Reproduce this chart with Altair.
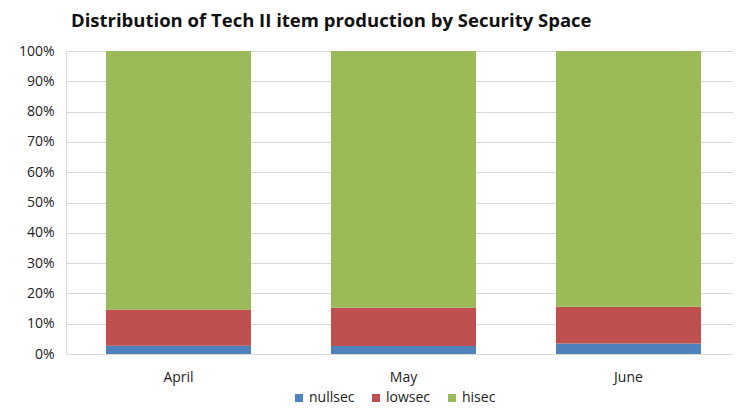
import altair as alt
import pandas as pd

months = ["April", "May", "June"]
series = ["nullsec", "lowsec", "hisec"]
nullsec = [2.7, 2.6, 3.5]
lowsec = [12.0, 12.7, 12.1]
hisec = [85.3, 84.7, 84.4]
colors = ["#4F81BD", "#C0504D", "#9BBB59"]

rows = []
for i, m in enumerate(months):
    for j, (s, vals) in enumerate(zip(series, [nullsec, lowsec, hisec])):
        rows.append({"month": m, "series": s, "value": vals[i], "order": j})
df = pd.DataFrame(rows)

FONT = "Open Sans"

chart = alt.Chart(df).mark_bar(size=145).encode(
    x=alt.X("month:N", sort=months, title=None,
            scale=alt.Scale(paddingInner=0.36, paddingOuter=0.18, range=[0, 675]),
            axis=alt.Axis(labelAngle=0, labelFont=FONT, labelFontSize=14,
                          labelColor="#222222", labelPadding=16, ticks=False,
                          domainColor="#D9D9D9", grid=False)),
    y=alt.Y("value:Q", stack="normalize", title=None,
            scale=alt.Scale(domain=[0, 1]),
            axis=alt.Axis(format=".0%", values=[i / 10 for i in range(11)],
                          labelFont=FONT, labelFontSize=14, labelColor="#222222",
                          labelPadding=12, ticks=False, domainColor="#D9D9D9",
                          gridColor="#D9D9D9")),
    color=alt.Color("series:N", sort=series,
                    scale=alt.Scale(domain=series, range=colors),
                    legend=alt.Legend(title=None, orient="none", direction="horizontal",
                                      legendX=226, legendY=340,
                                      symbolType="square", symbolSize=64,
                                      symbolStrokeWidth=0,
                                      labelFont=FONT, labelFontSize=14,
                                      labelColor="#222222", columnPadding=14,
                                      labelOffset=3)),
    order=alt.Order("order:Q"),
).properties(
    width=667,
    height=303,
    autosize=alt.AutoSizeParams(type="none"),
    padding={"left": 58, "top": 43, "right": 0, "bottom": 52},
    title=alt.TitleParams("Distribution of Tech II item production by Security Space",
                          anchor="start", frame="group", font=FONT, fontSize=18.5,
                          fontWeight="bold", color="#111111", dx=5, offset=14),
).configure_view(stroke=None)

chart.save("out.html", embed_options={"renderer": "svg", "actions": False})
